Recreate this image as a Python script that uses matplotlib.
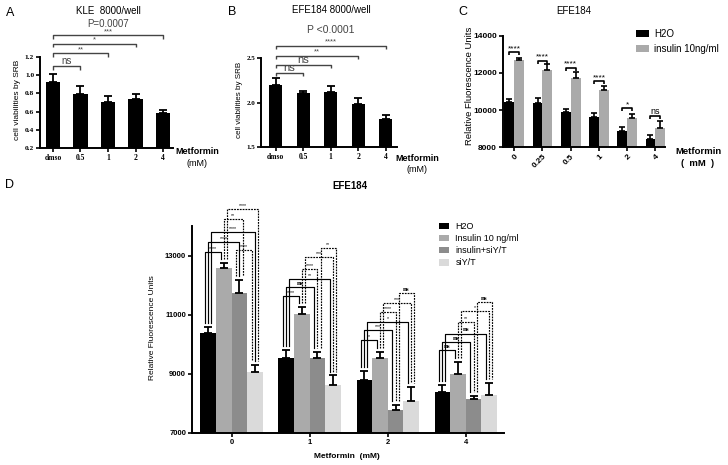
import matplotlib
matplotlib.use("Agg")
import matplotlib.pyplot as plt
import numpy as np

plt.rcParams['font.family'] = ['Liberation Sans', 'DejaVu Sans']

W, H = 728, 465

# ---------------- data ----------------
A_cats = ['dmso', '0.5', '1', '2', '4']
A_vals = [0.93, 0.79, 0.71, 0.74, 0.58]
A_err = [0.085, 0.09, 0.06, 0.055, 0.04]
A_sig_labels = ['ns', '**', '*', '***']
A_sig_levels = [1.10, 1.24, 1.345, 1.44]

B_cats = ['dmso', '0.5', '1', '2', '4']
B_vals = [2.20, 2.115, 2.12, 1.99, 1.82]
B_err = [0.075, 0.02, 0.07, 0.065, 0.048]
B_sig_labels = ['ns', 'ns', '**', '****']
B_sig_levels = [2.34, 2.43, 2.53, 2.64]

C_cats = ['0', '0.25', '0.5', '1', '2', '4']
C_h2o = [10454, 10364, 9880, 9612, 8852, 8444]
C_h2o_err = [143, 305, 162, 250, 266, 231]
C_ins = [12692, 12155, 11707, 11081, 9562, 9030]
C_ins_err = [90, 305, 359, 215, 213, 408]
C_sig_labels = ['****', '****', '****', '****', '*', 'ns']
C_sig_levels = [13108, 12656, 12280, 11565, 10100, 9686]

D_cats = ['0', '1', '2', '4']
D_series = ['H2O', 'Insulin 10 ng/ml', 'insulin+siY/T', 'siY/T']
D_h2o = [10380, 9540, 8800, 8370]
D_h2o_err = [190, 270, 280, 260]
D_ins = [12590, 11020, 9515, 8990]
D_ins_err = [150, 245, 225, 400]
D_inssi = [11730, 9540, 7765, 8125]
D_inssi_err = [435, 200, 180, 110]
D_si = [9045, 8630, 8090, 8260]
D_si_err = [255, 310, 450, 425]
# comparisons per dose group: (bar i, bar j, level, label, dashed)
D_sig = [
    [(0, 1, 13112, '****', False), (0, 2, 13450, '****', False), (0, 3, 13788, '****', False),
     (1, 2, 14240, '**', True), (1, 3, 14578, '****', True), (2, 3, 13204, '****', True)],
    [(0, 1, 11616, '****', False), (0, 2, 11930, 'ns', False), (0, 3, 12214, '**', False),
     (1, 2, 12538, '****', True), (1, 3, 12967, '***', True), (2, 3, 13271, '**', True)],
    [(0, 1, 10131, '*', False), (0, 2, 10468, '***', False), (0, 3, 10748, '*', False),
     (1, 2, 11086, '****', True), (1, 3, 11390, '***', True), (2, 3, 11728, 'ns', True)],
    [(0, 1, 9793, 'ns', False), (0, 2, 10073, 'ns', False), (0, 3, 10357, 'ns', False),
     (1, 2, 10738, '**', True), (1, 3, 11110, '*', True), (2, 3, 11414, 'ns', True)],
]

# ---------------- helpers ----------------
fig = plt.figure(figsize=(W / 100, H / 100), dpi=100)


def px_axes(x0, ytop, x1, ybot):
    return fig.add_axes([x0 / W, 1 - ybot / H, (x1 - x0) / W, (ybot - ytop) / H])


def ftext(x, y, s, **kw):
    fig.text(x / W, 1 - y / H, s, **kw)


def style(ax):
    for s in ['top', 'right']:
        ax.spines[s].set_visible(False)
    for s in ['left', 'bottom']:
        ax.spines[s].set_linewidth(1.4)
    ax.tick_params(width=1.2, length=3, direction='out', pad=1.2)
    ax.set_facecolor('none')


def upper_err(ax, x, v, e, lw=1.3, cap=3):
    ax.errorbar(x, v, yerr=[np.zeros(len(v)), e], fmt='none', ecolor='black',
                elinewidth=lw, capsize=cap, capthick=lw, zorder=3)


def top_bracket(ax, x1, x2, y, tick, label, color, fs, lw=1.0, family=None, weight='normal'):
    ax.plot([x1, x1, x2, x2], [y - tick, y, y, y - tick], color=color, lw=lw,
            clip_on=False, solid_capstyle='butt')
    ax.text((x1 + x2) / 2, y, label, ha='center', va='bottom', fontsize=fs, color=color,
            clip_on=False, family=family, weight=weight)


serif_bold = dict(family='Liberation Serif', weight='bold')

# ---------------- Panel A ----------------
axA = px_axes(40, 57, 173, 148)
style(axA)
xa = np.arange(len(A_cats))
axA.bar(xa, A_vals, width=0.52, color='black', zorder=2)
upper_err(axA, xa, A_vals, A_err)
axA.set_xlim(-0.47, 4.36)
axA.set_ylim(0.2, 1.2)
axA.set_yticks(np.arange(0.2, 1.21, 0.2))
axA.set_yticklabels(['%.1f' % v for v in np.arange(0.2, 1.21, 0.2)], fontsize=5.3, **serif_bold)
axA.set_xticks(xa)
axA.set_xticklabels(A_cats, fontsize=5.5, **serif_bold)
for k, (lab, lev) in enumerate(zip(A_sig_labels, A_sig_levels)):
    top_bracket(axA, 0, k + 1, lev, 0.04, lab, '#444444', 7 if lab == 'ns' else 5.5)
ftext(10, 13, 'A', fontsize=9, ha='center', va='center')
ftext(108, 11, 'KLE  8000/well', fontsize=7, ha='center', va='center')
ftext(108, 24, 'P=0.0007', fontsize=7, ha='center', va='center', color='#444444')
ftext(18, 100, 'cell viabilities by SRB', fontsize=6, ha='center', va='center', rotation=90)
ftext(197, 152, 'Metformin', fontsize=6.5, ha='center', va='center', weight='bold')
ftext(197, 163, '(mM)', fontsize=6.5, ha='center', va='center')

# ---------------- Panel B ----------------
axB = px_axes(261, 58.3, 397, 147.3)
style(axB)
xb = np.arange(len(B_cats))
axB.bar(xb, B_vals, width=0.48, color='black', zorder=2)
upper_err(axB, xb, B_vals, B_err)
axB.set_xlim(-0.53, 4.41)
axB.set_ylim(1.5, 2.5)
axB.set_yticks([1.5, 2.0, 2.5])
axB.set_yticklabels(['1.5', '2.0', '2.5'], fontsize=5.0, **serif_bold)
axB.set_xticks(xb)
axB.set_xticklabels(B_cats, fontsize=5.5, **serif_bold)
for k, (lab, lev) in enumerate(zip(B_sig_labels, B_sig_levels)):
    top_bracket(axB, 0, k + 1, lev, 0.035, lab, '#444444', 8 if lab == 'ns' else 5.5)
ftext(232, 12, 'B', fontsize=9, ha='center', va='center')
ftext(331, 10, 'EFE184 8000/well', fontsize=7, ha='center', va='center')
ftext(331, 30, 'P <0.0001', fontsize=7.5, ha='center', va='center', color='#444444')
ftext(239.5, 100, 'cell viabilities by SRB', fontsize=5.8, ha='center', va='center', rotation=90)
ftext(417, 158, 'Metformin', fontsize=6.5, ha='center', va='center', weight='bold')
ftext(417, 169, '(mM)', fontsize=6.5, ha='center', va='center')

# ---------------- Panel C ----------------
axC = px_axes(502.7, 35.7, 665, 147.3)
style(axC)
xc = np.arange(len(C_cats))
bw = 0.35
axC.bar(xc - bw / 2, C_h2o, width=bw, color='black', zorder=2, label='H2O')
axC.bar(xc + bw / 2, C_ins, width=bw, color='#aaaaaa', zorder=2, label='insulin 10ng/ml')
upper_err(axC, xc - bw / 2, C_h2o, C_h2o_err, lw=1.2, cap=2.5)
upper_err(axC, xc + bw / 2, C_ins, C_ins_err, lw=1.2, cap=2.5)
axC.set_xlim(-0.41, 5.34)
axC.set_ylim(8000, 14000)
axC.set_yticks([8000, 10000, 12000, 14000])
axC.set_yticklabels(['8000', '10000', '12000', '14000'], fontsize=6, weight='bold')
axC.set_xticks(xc)
axC.set_xticklabels(C_cats, fontsize=6, weight='bold', rotation=45, ha='right',
                    rotation_mode='anchor')
for k, (lab, lev) in enumerate(zip(C_sig_labels, C_sig_levels)):
    top_bracket(axC, k - bw / 2, k + bw / 2, lev, 170, lab, 'black',
                6.5 if lab == 'ns' else 6, lw=1.2)
axC.legend(frameon=False, loc='upper left', bbox_to_anchor=(636 / W, 1 - 29 / H),
           bbox_transform=fig.transFigure, fontsize=7, handlelength=1.3,
           handleheight=0.8, handletextpad=0.6, labelspacing=0.5, borderaxespad=0,
           borderpad=0)
ftext(463, 12, 'C', fontsize=9, ha='center', va='center')
ftext(574, 11, 'EFE184', fontsize=7, ha='center', va='center')
ftext(469, 86, 'Relative Fluorescence Units', fontsize=6.8, ha='center', va='center',
      rotation=90)
ftext(698, 152, 'Metformin', fontsize=6.8, ha='center', va='center', weight='bold')
ftext(698, 164, '(  mM  )', fontsize=6.8, ha='center', va='center', weight='bold')

# ---------------- Panel D ----------------
axD = px_axes(192, 226, 504, 432.7)
style(axD)
xd = np.arange(len(D_cats))
dw = 0.2
D_vals = [D_h2o, D_ins, D_inssi, D_si]
D_errs = [D_h2o_err, D_ins_err, D_inssi_err, D_si_err]
D_colors = ['black', '#aaaaaa', '#8c8c8c', '#dadada']
offs = np.array([-1.5, -0.5, 0.5, 1.5]) * dw
for s in range(4):
    axD.bar(xd + offs[s], D_vals[s], width=dw, color=D_colors[s], zorder=2, label=D_series[s])
    upper_err(axD, xd + offs[s], D_vals[s], D_errs[s], lw=1.3, cap=2.8)
axD.set_xlim(-0.508, 3.49)
axD.set_ylim(7000, 14000)
axD.set_yticks([7000, 9000, 11000, 13000])
axD.set_yticklabels(['7000', '9000', '11000', '13000'], fontsize=5.5, weight='bold')
axD.set_xticks(xd)
axD.set_xticklabels(D_cats, fontsize=5.5, weight='bold')

for g, comps in enumerate(D_sig):
    tops = [D_vals[s][g] + D_errs[s][g] for s in range(4)]
    legs = {s: [] for s in range(4)}
    for ci, (i, j, lev, lab, dashed) in enumerate(comps):
        legs[i].append((lev, ci))
        legs[j].append((lev, ci))
    legx = {}
    for s in range(4):
        srt = sorted(legs[s])
        n = len(srt)
        for k, (lev, ci) in enumerate(srt):
            legx[(ci, s)] = g + offs[s] + (k - (n - 1) / 2) * 0.04
    for ci, (i, j, lev, lab, dashed) in enumerate(comps):
        x1, x2 = legx[(ci, i)], legx[(ci, j)]
        y1, y2 = tops[i] + 130, tops[j] + 130
        ls = (0, (1.5, 0.9)) if dashed else '-'
        axD.plot([x1, x1, x2, x2], [y1, lev, lev, y2], color='black', lw=0.85,
                 linestyle=ls, clip_on=False, zorder=4)
        if lab == 'ns':
            axD.text((x1 + x2) / 2, lev + 40, lab, ha='center', va='bottom', fontsize=5,
                     clip_on=False, **serif_bold)
        else:
            axD.text((x1 + x2) / 2, lev + 30, lab, ha='center', va='bottom', fontsize=3.8,
                     clip_on=False)

axD.legend(frameon=False, loc='upper left', bbox_to_anchor=(439 / W, 1 - 222 / H),
           bbox_transform=fig.transFigure, fontsize=6.5, handlelength=1.1,
           handleheight=0.75, handletextpad=0.7, labelspacing=0.35, borderaxespad=0,
           borderpad=0)
ftext(10, 185, 'D', fontsize=9, ha='center', va='center')
ftext(350, 186, 'EFE184', fontsize=7, ha='center', va='center', weight='bold')
ftext(153, 328, 'Relative Fluorescence Units', fontsize=6, ha='center', va='center',
      rotation=90)
ftext(347, 456, 'Metformin  (mM)', fontsize=6, ha='center', va='center', weight='bold')

fig.savefig('out.png', dpi=100)
